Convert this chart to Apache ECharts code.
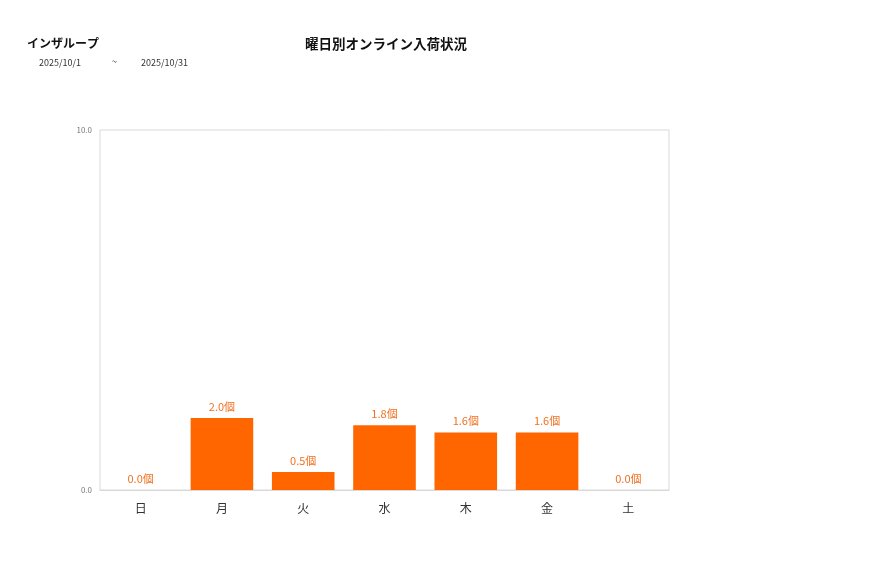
<!DOCTYPE html>
<html><head><meta charset="utf-8">
<script src="https://cdn.jsdelivr.net/npm/echarts@6/dist/echarts.min.js"></script>
<style>html,body{margin:0;padding:0;background:#fff}#c{width:877px;height:578px}</style>
</head><body><div id="c"></div>
<script>
const categories = ['日','月','火','水','木','金','土'];
const values = [0.0, 2.0, 0.5, 1.8, 1.6, 1.6, 0.0];
const yMin = 0, yMax = 10, yInterval = 10;
const shopName = 'インザループ';
const chartTitle = '曜日別オンライン入荷状況';
const dateFrom = '2025/10/1', dateTo = '2025/10/31';

const font = '"Noto Sans CJK JP", "Noto Sans", sans-serif';
const chart = echarts.init(document.getElementById('c'));
chart.setOption({
  animation: false,
  textStyle: { fontFamily: font },
  title: [
    { text: shopName, left: 22, top: 32, textStyle: { fontSize: 12, fontWeight: 'bold', color: '#111', fontFamily: font } },
    { text: chartTitle, left: 381, top: 32, textAlign: 'center', textStyle: { fontSize: 13.5, fontWeight: 'bold', color: '#111', fontFamily: font } },
    { text: dateFrom, left: 34, top: 53, textStyle: { fontSize: 9, fontWeight: 'normal', color: '#333', fontFamily: font } },
    { text: '~', left: 107, top: 52, textStyle: { fontSize: 9, fontWeight: 'normal', color: '#333', fontFamily: font } },
    { text: dateTo, left: 136, top: 53, textStyle: { fontSize: 9, fontWeight: 'normal', color: '#333', fontFamily: font } }
  ],
  grid: { left: 100, right: 208, top: 130, bottom: 88, show: true, borderColor: '#d9d9d9', borderWidth: 1, containLabel: false },
  xAxis: {
    type: 'category', data: categories,
    axisLine: { show: true, lineStyle: { color: '#d9d9d9' } },
    axisTick: { show: false },
    axisLabel: { color: '#333', fontSize: 12, margin: 12, fontFamily: font }
  },
  yAxis: {
    type: 'value', min: yMin, max: yMax, interval: yInterval,
    splitLine: { show: false },
    axisLine: { show: false }, axisTick: { show: false },
    axisLabel: { color: '#777', fontSize: 8, margin: 8, formatter: v => v.toFixed(1), fontFamily: font }
  },
  series: [{
    type: 'bar', data: values, barWidth: '77%',
    itemStyle: { color: '#ff6600' },
    label: { show: true, position: 'top', distance: 6, color: '#f07020', fontSize: 11, fontFamily: font,
      formatter: p => p.value.toFixed(1) + '個' }
  }]
});
</script></body></html>
